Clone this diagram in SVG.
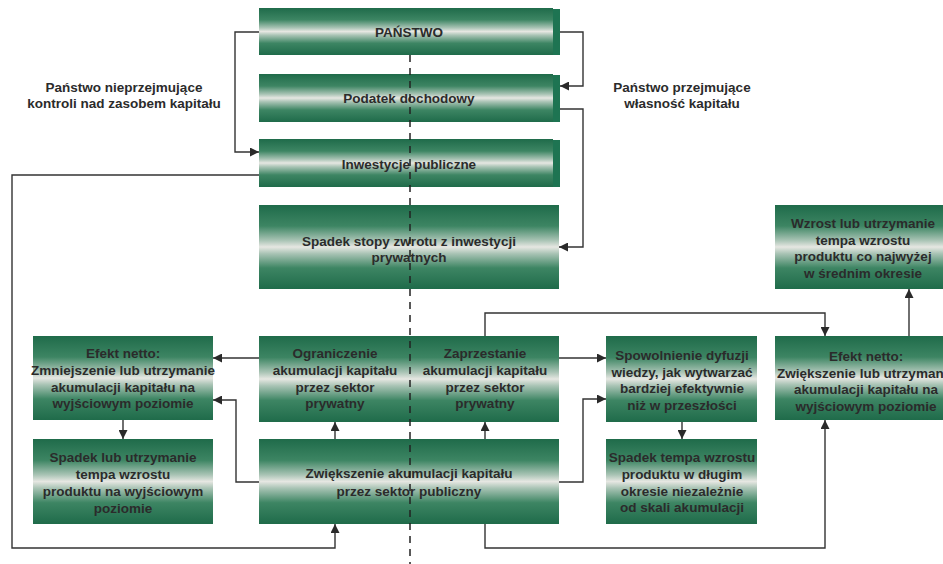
<svg xmlns="http://www.w3.org/2000/svg" width="943" height="564" viewBox="0 0 943 564">
<defs>
<linearGradient id="g" x1="0" y1="0" x2="0" y2="1">
<stop offset="0" stop-color="#1f6b4a"/>
<stop offset="0.25" stop-color="#3d8563"/>
<stop offset="0.42" stop-color="#a8c3b4"/>
<stop offset="0.5" stop-color="#e6e7e2"/>
<stop offset="0.58" stop-color="#a8c3b4"/>
<stop offset="0.75" stop-color="#3d8563"/>
<stop offset="1" stop-color="#1f6b4a"/>
</linearGradient>
<marker id="a" viewBox="0 0 10 10" refX="10" refY="5" markerWidth="9" markerHeight="9" markerUnits="userSpaceOnUse" orient="auto">
<path d="M0,0 L10,5 L0,10 z" fill="#2a2a2a"/>
</marker>
<style>
.b{fill:url(#g)}
.s{fill:#1e7452}
.t{font-family:"Liberation Sans Narrow","Liberation Sans",Arial,sans-serif;font-weight:bold;font-size:13.5px;fill:#2b2b2b;text-anchor:middle}
.l{fill:none;stroke:#333;stroke-width:1.4}
.la{fill:none;stroke:#333;stroke-width:1.4;marker-end:url(#a)}
.d{fill:none;stroke:#222;stroke-width:1.5;stroke-dasharray:7 6}
</style>
</defs>
<rect width="943" height="564" fill="#fff"/>

<g id="panstwo"><rect class="s" x="553" y="9" width="7" height="46"/><rect class="b" x="259" y="8" width="294" height="47"/><text class="t" x="409" y="37">PAŃSTWO</text></g>
<g id="podatek"><rect class="s" x="553" y="75" width="7" height="47"/><rect class="b" x="259" y="74" width="294" height="48"/><text class="t" x="409" y="103">Podatek dochodowy</text></g>
<g id="inwestycje"><rect class="s" x="553" y="140" width="7" height="47"/><rect class="b" x="259" y="139" width="294" height="48"/><text class="t" x="409" y="169">Inwestycje publiczne</text></g>
<g id="spadek-stopy"><rect class="b" x="259" y="205" width="300" height="84"/><text class="t" x="409" y="246">Spadek stopy zwrotu z inwestycji</text><text class="t" x="409" y="262">prywatnych</text></g>

<g id="efekt-lewy"><rect class="b" x="33" y="336" width="180" height="84"/>
<text class="t" x="123" y="358">Efekt netto:</text><text class="t" x="123" y="375">Zmniejszenie lub utrzymanie</text><text class="t" x="123" y="392">akumulacji kapitału na</text><text class="t" x="123" y="408">wyjściowym poziomie</text></g>
<g id="spadek-lub"><rect class="b" x="33" y="439" width="180" height="85"/>
<text class="t" x="123" y="462">Spadek lub utrzymanie</text><text class="t" x="123" y="479">tempa wzrostu</text><text class="t" x="123" y="496">produktu na wyjściowym</text><text class="t" x="123" y="513">poziomie</text></g>
<g id="ograniczenie"><rect class="b" x="259" y="336" width="152" height="86"/>
<text class="t" x="335" y="358">Ograniczenie</text><text class="t" x="335" y="375">akumulacji kapitału</text><text class="t" x="335" y="392">przez sektor</text><text class="t" x="335" y="408">prywatny</text></g>
<g id="zaprzestanie"><rect class="b" x="410" y="336" width="149" height="86"/>
<text class="t" x="485" y="358">Zaprzestanie</text><text class="t" x="485" y="375">akumulacji kapitału</text><text class="t" x="485" y="392">przez sektor</text><text class="t" x="485" y="408">prywatny</text></g>
<g id="zwiekszenie"><rect class="b" x="259" y="439" width="300" height="85"/>
<text class="t" x="409" y="478">Zwiększenie akumulacji kapitału</text><text class="t" x="409" y="496">przez sektor publiczny</text></g>
<g id="spowolnienie"><rect class="b" x="606" y="336" width="151" height="86"/>
<text class="t" x="682" y="360">Spowolnienie dyfuzji</text><text class="t" x="682" y="377">wiedzy, jak wytwarzać</text><text class="t" x="682" y="393">bardziej efektywnie</text><text class="t" x="682" y="410">niż w przeszłości</text></g>
<g id="spadek-tempa"><rect class="b" x="606" y="439" width="151" height="85"/>
<text class="t" x="682" y="462">Spadek tempa wzrostu</text><text class="t" x="682" y="479">produktu w długim</text><text class="t" x="682" y="496">okresie niezależnie</text><text class="t" x="682" y="512">od skali akumulacji</text></g>
<g id="wzrost"><rect class="b" x="775" y="205" width="168" height="84"/>
<text class="t" x="863" y="228">Wzrost lub utrzymanie</text><text class="t" x="863" y="245">tempa wzrostu</text><text class="t" x="863" y="261">produktu co najwyżej</text><text class="t" x="863" y="278">w średnim okresie</text></g>
<g id="efekt-prawy"><rect class="b" x="775" y="336" width="168" height="84"/>
<text class="t" x="866" y="361">Efekt netto:</text><text class="t" x="866" y="378">Zwiększenie lub utrzymanie</text><text class="t" x="866" y="394">akumulacji kapitału na</text><text class="t" x="866" y="411">wyjściowym poziomie</text></g>

<g id="etykiety">
<text class="t" x="124" y="92">Państwo nieprzejmujące</text><text class="t" x="124" y="108">kontroli nad zasobem kapitału</text>
<text class="t" x="682" y="92">Państwo przejmujące</text><text class="t" x="682" y="108">własność kapitału</text>
</g>

<g id="polaczenia">
<path class="d" d="M410,55 V564"/>
<path class="la" d="M259,32 H235 V152 H259"/>
<path class="la" d="M560,32 H583 V86 H560"/>
<path class="la" d="M560,109 H583 V247 H559"/>
<path class="la" d="M259,175 H12 V548 H335 V524"/>
<path class="la" d="M259,358 H213"/>
<path class="la" d="M259,482 H236 V400 H213"/>
<path class="la" d="M123,420 V439"/>
<path class="la" d="M335,439 V422"/>
<path class="la" d="M485,439 V422"/>
<path class="la" d="M559,358 H606"/>
<path class="la" d="M559,482 H583 V399 H606"/>
<path class="la" d="M682,422 V439"/>
<path class="la" d="M485,336 V313 H825 V336"/>
<path class="la" d="M909,336 V289"/>
<path class="la" d="M485,524 V548 H825 V420"/>
</g>
</svg>
